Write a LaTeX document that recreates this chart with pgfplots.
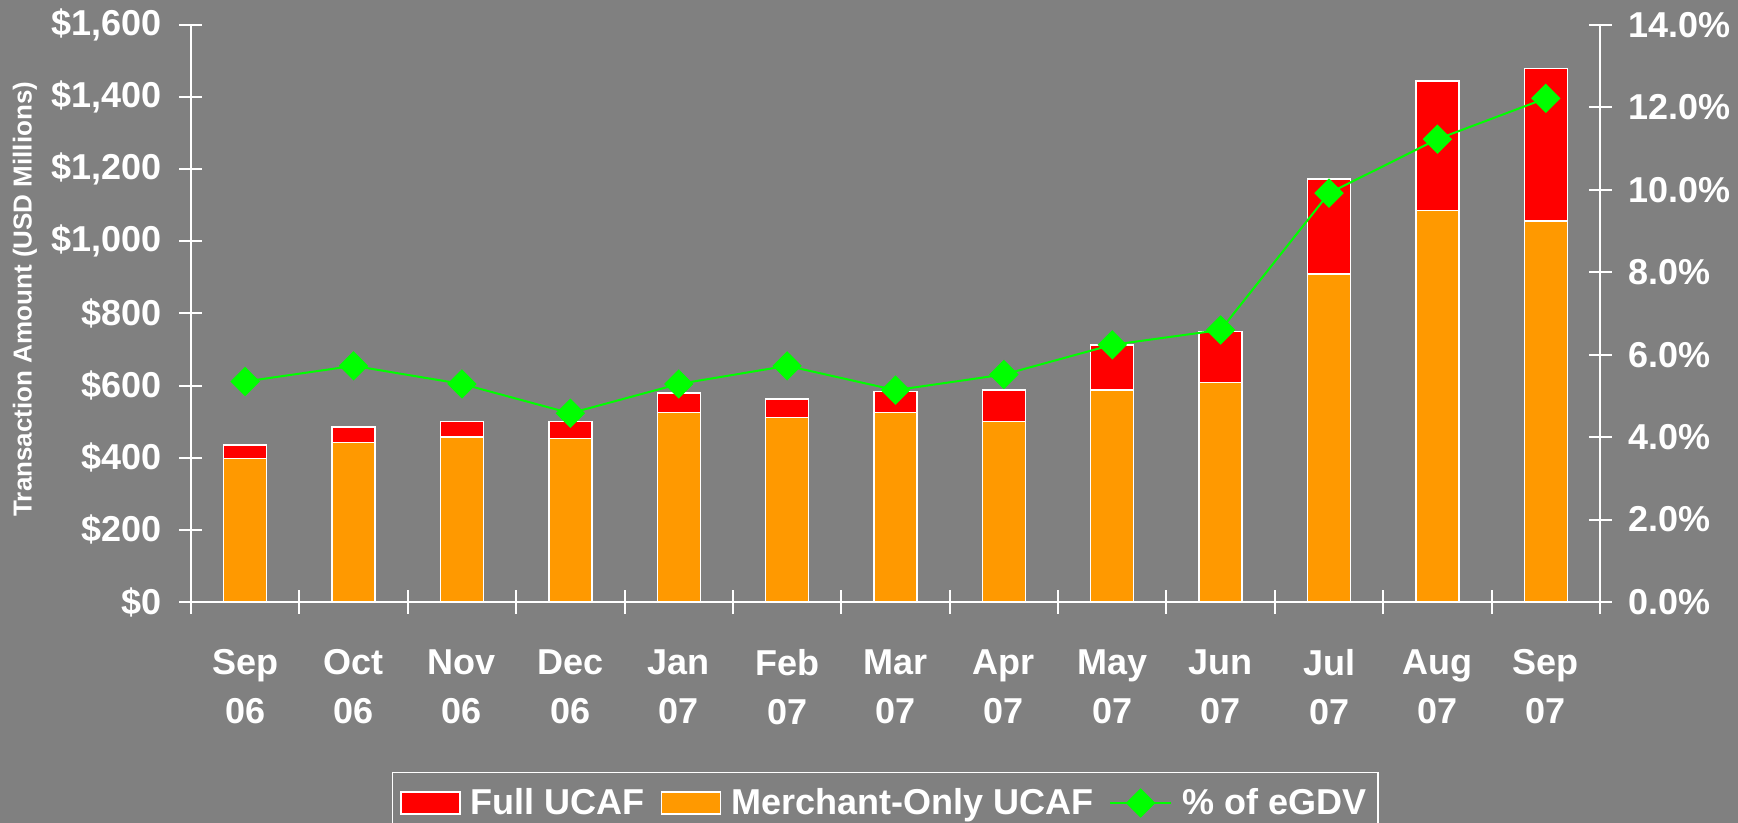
\documentclass[border=0pt]{standalone}
\usepackage{pgfplots}
\pgfplotsset{compat=1.18}
\usepackage{fontspec}
\setmainfont{Liberation Sans}
\definecolor{bg}{RGB}{128,128,128}
\definecolor{cred}{RGB}{255,0,0}
\definecolor{corange}{RGB}{255,153,0}
\definecolor{cgreen}{RGB}{0,255,0}
\pgfplotsset{
  barleg/.style={legend image code/.code={\draw[##1] (0pt,-5.5pt) rectangle (29.5pt,5.5pt);}},
  lineleg/.style={legend image code/.code={\draw[mark repeat=2,mark phase=2,##1] plot coordinates {(0pt,0pt) (15.25pt,0pt) (30.5pt,0pt)};}},
}
\begin{document}
\begin{tikzpicture}
\path[use as bounding box, fill=bg] (-95.5pt,-110.5pt) rectangle (773.5pt,301pt);
\begin{axis}[
  scale only axis, width=704.5pt, height=288.5pt,
  xmin=-0.5, xmax=12.5, ymin=0, ymax=1600,
  axis lines*=left,
  axis line style={white, line width=1pt},
  ybar stacked, bar width=21.5pt,
  tick style={white, line width=1pt},
  tick align=center, major tick length=11.5pt, minor tick length=11.5pt,
  ytick={0,200,...,1600},
  yticklabels={\$0,\$200,\$400,\$600,\$800,{\$1,000},{\$1,200},{\$1,400},{\$1,600}},
  xtick={0,...,12},
  minor xtick={-0.5,0.5,...,12.5},
  major x tick style={draw=none},
  xticklabels={{Sep\\06},{Oct\\06},{Nov\\06},{Dec\\06},{Jan\\07},{Feb\\07},{Mar\\07},{Apr\\07},{May\\07},{Jun\\07},{Jul\\07},{Aug\\07},{Sep\\07}},
  tick label style={font=\fontsize{18}{24.5}\selectfont\bfseries, text=white},
  x tick label style={align=center, yshift=-14.5pt},
  y tick label style={xshift=-5.5pt},
  ylabel={Transaction Amount (USD Millions)},
  every axis y label/.style={at={(axis description cs:-0.1178,0.525)}, rotate=90, anchor=center, font=\fontsize{13}{15}\selectfont\bfseries, text=white},
]
\addplot[fill=corange, draw=white, line width=0.7pt] coordinates {
(0,398) (1,443) (2,458) (3,453) (4,526) (5,511) (6,526) (7,500) (8,588) (9,609) (10,910) (11,1086) (12,1056)};
\addplot[fill=cred, draw=white, line width=0.7pt] coordinates {
(0,37) (1,42) (2,42) (3,47) (4,53) (5,52) (6,57) (7,88) (8,125) (9,141) (10,263) (11,359) (12,423)};
\end{axis}
\begin{axis}[
  scale only axis, width=704.5pt, height=288.5pt,
  xmin=-0.5, xmax=12.5, ymin=0, ymax=14,
  axis x line=none, axis y line*=right,
  axis line style={white, line width=1pt},
  tick style={white, line width=1pt},
  tick align=center, major tick length=11.5pt,
  ytick={0,2,...,14},
  yticklabels={0.0\%,2.0\%,4.0\%,6.0\%,8.0\%,10.0\%,12.0\%,14.0\%},
  tick label style={font=\fontsize{18}{24.5}\selectfont\bfseries, text=white},
  y tick label style={xshift=5pt},
  legend columns=-1,
  legend style={at={(axis description cs:0.1423,-0.294)}, anchor=north west, draw=white, line width=0.8pt, fill=none, text=white, font=\fontsize{18}{21}\selectfont\bfseries, inner ysep=6pt, inner xsep=4pt},
  /tikz/every odd column/.append style={column sep=3pt},
  /tikz/every even column/.append style={column sep=6pt},
]
\addlegendimage{fill=cred, draw=white, line width=0.7pt, barleg}
\addlegendentry{Full UCAF}
\addlegendimage{fill=corange, draw=white, line width=0.7pt, barleg}
\addlegendentry{Merchant-Only UCAF}
\addplot[cgreen, line width=1pt, mark=square*, mark size=4.7pt, mark options={rotate=45, fill=cgreen}, lineleg] coordinates {
(0,5.35) (1,5.73) (2,5.29) (3,4.58) (4,5.29) (5,5.73) (6,5.14) (7,5.52) (8,6.24) (9,6.60) (10,9.92) (11,11.23) (12,12.22)};
\addlegendentry{\% of eGDV}
\end{axis}
\end{tikzpicture}
\end{document}
